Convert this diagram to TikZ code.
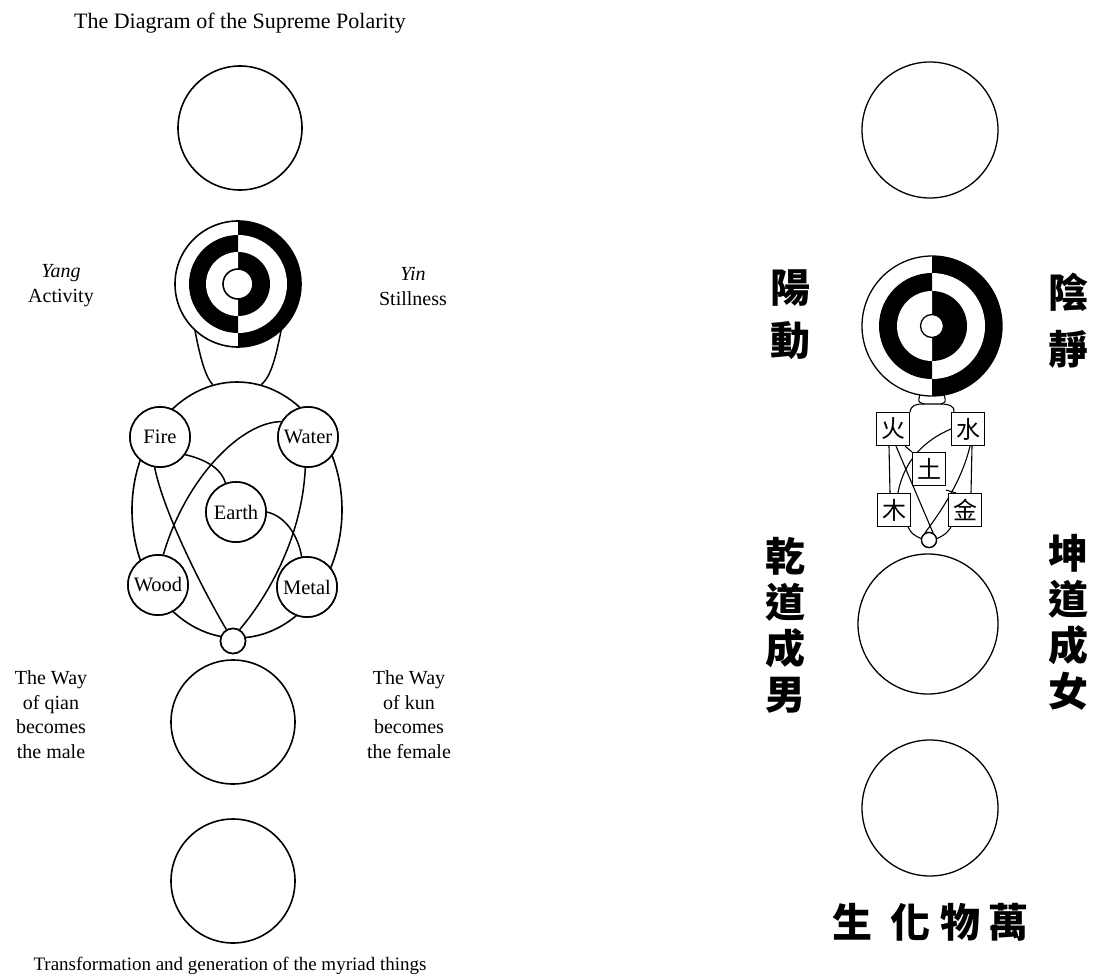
\documentclass[tikz,border=0pt]{standalone}
\usepackage{fontspec}
\setmainfont{Liberation Serif}
\newfontfamily\cjk{Noto Sans CJK TC}
\usetikzlibrary{shapes.geometric}
\begin{document}
\begin{tikzpicture}[x=1pt,y=-1pt,
  circ/.style={draw, circle, line width=1.6pt, fill=white, inner sep=0pt},
  elem/.style={circ, minimum size=60pt, font=\fontsize{20.5}{22}\selectfont},
  conn/.style={line width=1.5pt},
  rconn/.style={line width=1.1pt},
  rcirc/.style={draw, circle, line width=1.3pt, fill=white, inner sep=0pt},
  ebox/.style={draw, rectangle, line width=1.1pt, fill=white, minimum size=33pt, inner sep=0pt, font=\cjk\fontsize{24}{24}\selectfont},
  lbl/.style={align=center, inner sep=0pt, font=\fontsize{20}{24.5}\selectfont},
  big/.style={inner sep=0pt, align=center, font=\cjk\bfseries\fontsize{40}{46}\selectfont},
]
\useasboundingbox (0,0) rectangle (1102,976);
\fill[white] (0,0) rectangle (1102,976);

% ================= LEFT =================
\node[lbl, font=\fontsize{22}{26}\selectfont] (title) at (240,23) {The Diagram of the Supreme Polarity};
\node[circ, minimum size=124pt] (c1) at (240,128) {};

% oval and connectors
\node[draw, ellipse, line width=1.6pt, minimum width=210pt, minimum height=256pt, inner sep=0pt] (oval) at (237,510) {};
\node[circle, minimum size=126pt, inner sep=0pt] (taiji) at (238,284) {};
\node[elem] (fire) at (160,437) {Fire};
\node[elem] (water) at (308,437) {Water};
\node[elem] (earth) at (236,512) {Earth};
\node[elem] (wood) at (158,585) {Wood};
\node[elem] (metal) at (307,587) {Metal};
\node[circ, minimum size=25pt] (sc) at (233,641) {};

\draw[conn] (taiji.-133) .. controls (201,362) and (206,377) .. (oval.101);
\draw[conn] (taiji.-47) .. controls (275,362) and (270,377) .. (oval.79);
\draw[conn] (fire.-35) .. controls (208,460) and (222,470) .. (earth.110);
\draw[conn] (water.150) .. controls (240,422) and (185,480) .. (wood.80);
\draw[conn] (fire.-100) .. controls (163,510) and (200,585) .. (sc.120);
\draw[conn] (water.-95) .. controls (302,540) and (265,600) .. (sc.60);
\draw[conn] (earth.0) .. controls (285,516) and (298,535) .. (metal.100);

% redraw circles on top
\node[elem] at (fire) {Fire};
\node[elem] at (water) {Water};
\node[elem] at (earth) {Earth};
\node[elem] at (wood) {Wood};
\node[elem] at (metal) {Metal};
\node[circ, minimum size=25pt] at (sc) {};

% taiji
\fill[white] (238,284) circle[radius=63pt];
\fill[black] (238,221) arc[start angle=90, end angle=-90, radius=63pt] -- cycle;
\fill[white] (238,235) arc[start angle=90, end angle=-90, radius=49pt] -- cycle;
\fill[black] (238,235) arc[start angle=90, end angle=270, radius=49pt] -- cycle;
\fill[black] (238,252) arc[start angle=90, end angle=-90, radius=32pt] -- cycle;
\fill[white] (238,252) arc[start angle=90, end angle=270, radius=32pt] -- cycle;
\node[circ, minimum size=30pt] (tcore) at (238,284) {};
\node[draw, circle, line width=1.6pt, minimum size=126pt, inner sep=0pt] at (taiji) {};

\node[lbl] (yang) at (61,285.5) {\textit{Yang}\\Activity};
\node[lbl] (yin) at (413,286.5) {\textit{Yin}\\Stillness};

\node[circ, minimum size=124pt] (c3) at (233,722) {};
\node[lbl] (qianl) at (51,714.5) {The Way\\of qian\\becomes\\the male};
\node[lbl] (kunl) at (409,714.5) {The Way\\of kun\\becomes\\the female};

\node[circ, minimum size=124pt] (c4) at (233,881) {};
\node[lbl, font=\fontsize{19}{22}\selectfont] (caption) at (230,966) {Transformation and generation of the myriad things};

% ================= RIGHT =================
\node[rcirc, minimum size=136pt] (r1) at (930,130) {};

\node[circle, minimum size=140pt, inner sep=0pt] (taiji2) at (932,326) {};
\coordinate (lobeL) at (924,404);
\coordinate (lobeR) at (941,404);

\node[ebox] (huo) at (893,429) {火};
\node[ebox] (shui) at (968,429) {水};
\node[ebox] (tu) at (929,469) {土};
\node[ebox] (mu) at (894,510) {木};
\node[ebox] (jin) at (965,510) {金};
\node[rcirc, minimum size=15pt] (sc2) at (929,540) {};

\draw[rconn] (taiji2.-100) .. controls (918,402) .. (lobeL) -- (lobeR) .. controls (946,402) .. (taiji2.-80);
\draw[rconn] (huo.north east) .. controls (911,405) and (916,404) .. (lobeL);
\draw[rconn] (lobeR) .. controls (950,404) and (955,407) .. ([xshift=3pt]shui.north west);
\draw[rconn] ([xshift=-4pt]huo.south) -- ([xshift=-4pt]mu.north);
\draw[rconn] ([xshift=4pt]shui.south) -- ([xshift=6pt]jin.north);
\draw[rconn] ([xshift=-3pt]mu.south east) .. controls (912,534) .. (sc2.170);
\draw[rconn] ([xshift=3pt]jin.south west) .. controls (946,534) .. (sc2.10);
\draw[rconn] ([xshift=-5pt]huo.south east) -- (tu.north west);
\draw[rconn] (shui.west) .. controls (925,440) and (904,460) .. ([xshift=4pt]mu.north);
\draw[rconn] ([xshift=3pt]huo.south) -- (sc2.60);
\draw[rconn] ([xshift=2pt]shui.south) .. controls (962,480) and (942,510) .. (sc2.120);
\draw[rconn] ([yshift=-4pt]tu.south east) -- ([xshift=-9pt]jin.north);

\node[ebox] at (huo) {火};
\node[ebox] at (shui) {水};
\node[ebox] at (tu) {土};
\node[ebox] at (mu) {木};
\node[ebox] at (jin) {金};
\node[rcirc, minimum size=15pt] at (sc2) {};

% right taiji
\fill[white] (932,326) circle[radius=70pt];
\fill[black] (932,256) arc[start angle=90, end angle=-90, radius=70pt] -- cycle;
\fill[white] (932,273) arc[start angle=90, end angle=-90, radius=53pt] -- cycle;
\fill[black] (932,273) arc[start angle=90, end angle=270, radius=53pt] -- cycle;
\fill[black] (932,291) arc[start angle=90, end angle=-90, radius=35pt] -- cycle;
\fill[white] (932,291) arc[start angle=90, end angle=270, radius=35pt] -- cycle;
\node[rcirc, minimum size=23pt] (tcore2) at (932,326) {};
\node[draw, circle, line width=1.3pt, minimum size=140pt, inner sep=0pt] at (taiji2) {};

\node[big, font=\cjk\bfseries\fontsize{40}{53}\selectfont] (yangc) at (790,315) {陽\\動};
\node[big, font=\cjk\bfseries\fontsize{40}{57}\selectfont] (yinc) at (1068,321) {陰\\靜};

\node[rcirc, minimum size=140pt] (r3) at (928,624) {};
\node[big] (qianc) at (785,625) {乾\\道\\成\\男};
\node[big] (kunc) at (1068,622) {坤\\道\\成\\女};

\node[rcirc, minimum size=136pt] (r4) at (930,808) {};
\node[big] (sheng) at (852,922) {生};
\node[big] (hua) at (910,922) {化};
\node[big] (wu) at (960,922) {物};
\node[big] (wan) at (1008,922) {萬};
\end{tikzpicture}
\end{document}
